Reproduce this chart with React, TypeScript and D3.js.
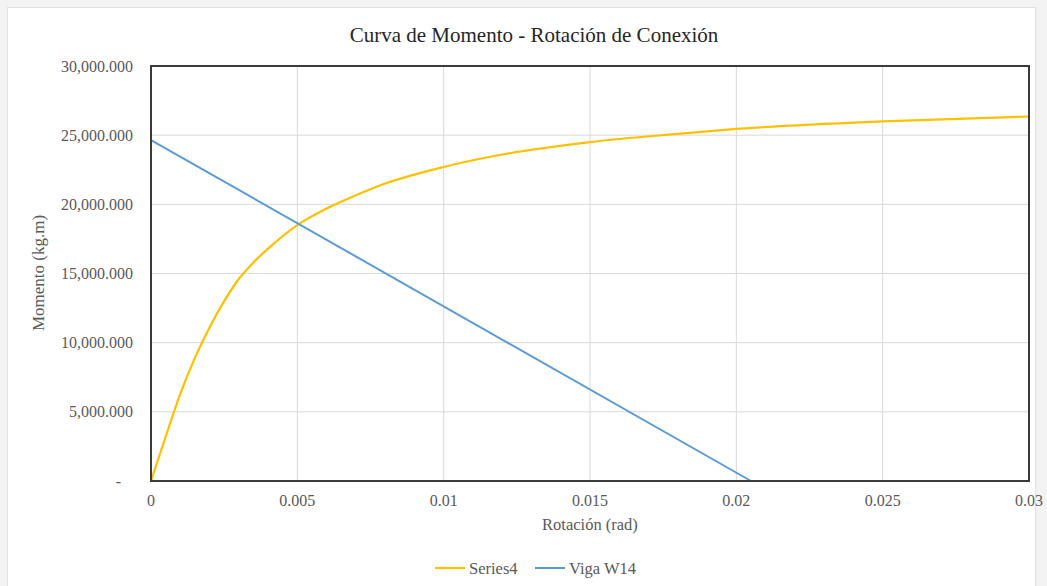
import React from "react";
import * as d3 from "d3";

const series4X = [0, 0.0005, 0.001, 0.0015, 0.002, 0.0025, 0.003, 0.0035, 0.004, 0.005, 0.006, 0.007, 0.008, 0.01, 0.012, 0.015, 0.018, 0.02, 0.025, 0.03];
const series4Y = [0, 3200000, 6300000, 8900000, 11100000, 13000000, 14600000, 15800000, 16800000, 18500000, 19700000, 20650000, 21500000, 22700000, 23600000, 24500000, 25100000, 25450000, 26000000, 26350000];
const vigaX = [0, 0.0205];
const vigaY = [24650000, 0];
const xTicks = [0, 0.005, 0.01, 0.015, 0.02, 0.025, 0.03];
const xTickLabels = ["0", "0.005", "0.01", "0.015", "0.02", "0.025", "0.03"];
const yTicks = [0, 5000000, 10000000, 15000000, 20000000, 25000000, 30000000];
const yTickLabels = ["-", "5,000.000", "10,000.000", "15,000.000", "20,000.000", "25,000.000", "30,000.000"];
const seriesNames = ["Series4", "Viga W14"];
const seriesColors = ["#FFC000", "#5B9BD5"];

const W = 1047, H = 586;
const L = 151, R = 1029, T = 66, B = 481;
const FONT = "Liberation Serif, Times New Roman, DejaVu Serif, serif";

export default function App() {
  const x = d3.scaleLinear().domain([0, 0.03]).range([L, R]);
  const y = d3.scaleLinear().domain([0, 30000000]).range([B, T]);
  const line = d3.line<[number, number]>().x(d => x(d[0])).y(d => y(d[1])).curve(d3.curveMonotoneX);
  const s4: [number, number][] = series4X.map((v, i) => [v, series4Y[i]]);
  const vg: [number, number][] = vigaX.map((v, i) => [v, vigaY[i]]);
  const ts = { fontFamily: FONT };
  return (
    <svg width={W} height={H} style={{ position: "absolute", left: 0, top: 0, display: "block", fontFamily: FONT }}>
      <rect x={0} y={0} width={W} height={H} fill="#f3f3f3" />
      <rect x={7.5} y={7.5} width={1028} height={590} fill="#ffffff" stroke="#e2e2e2" />
      {yTicks.map(t => (
        <line key={"gy" + t} x1={L} x2={R} y1={y(t)} y2={y(t)} stroke="#d9d9d9" strokeWidth={1} />
      ))}
      {xTicks.map(t => (
        <line key={"gx" + t} x1={x(t)} x2={x(t)} y1={T} y2={B} stroke="#d9d9d9" strokeWidth={1} />
      ))}
      <path d={line(s4) || ""} fill="none" stroke={seriesColors[0]} strokeWidth={2.2} />
      <path d={d3.line<[number, number]>().x(d => x(d[0])).y(d => y(d[1]))(vg) || ""} fill="none" stroke={seriesColors[1]} strokeWidth={2} />
      <rect x={L} y={T} width={R - L} height={B - T} fill="none" stroke="#3a3a3a" strokeWidth={2} />
      {yTicks.map((t, i) => (
        <text key={"ty" + t} style={ts} x={t === 0 ? 121 : 133} y={y(t) + 5.5} textAnchor="end" fontSize={16} fill="#595959">{yTickLabels[i]}</text>
      ))}
      {xTicks.map((t, i) => (
        <text key={"tx" + t} style={ts} x={x(t)} y={506} textAnchor="middle" fontSize={16} fill="#595959">{xTickLabels[i]}</text>
      ))}
      <text style={ts} x={534} y={42} textAnchor="middle" fontSize={21} fill="#262626">Curva de Momento - Rotación de Conexión</text>
      <text style={ts} x={590} y={530} textAnchor="middle" fontSize={16.5} fill="#595959">Rotación (rad)</text>
      <text style={ts} transform="translate(44,273) rotate(-90)" textAnchor="middle" fontSize={17} fill="#595959">Momento (kg.m)</text>
      <g>
        <line x1={435} x2={465} y1={568} y2={568} stroke={seriesColors[0]} strokeWidth={2.2} />
        <text style={ts} x={469} y={574} fontSize={16.5} fill="#595959">{seriesNames[0]}</text>
        <line x1={535} x2={565} y1={568} y2={568} stroke={seriesColors[1]} strokeWidth={2} />
        <text style={ts} x={569} y={574} fontSize={16.5} fill="#595959">{seriesNames[1]}</text>
      </g>
    </svg>
  );
}
